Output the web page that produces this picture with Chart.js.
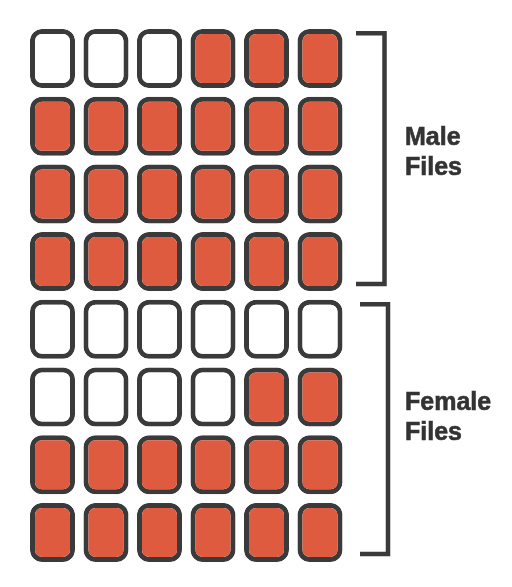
<!DOCTYPE html>
<html>
<head>
<meta charset="utf-8">
<script src="https://cdn.jsdelivr.net/npm/chart.js@4/dist/chart.umd.min.js"></script>
<style>
  html, body { margin: 0; padding: 0; background: #ffffff; }
  #wrap { width: 512px; height: 587px; position: relative; }
</style>
</head>
<body>
<div id="wrap"><canvas id="c" width="512" height="587"></canvas></div>
<script>
// ---- data ----
const columns = ['1', '2', '3', '4', '5', '6'];
const groupLabels = [['Male', 'Files'], ['Female', 'Files']];
const groupRows = [4, 4];              // rows per group
const rowFilled = [3, 6, 6, 6, 0, 2, 6, 6]; // filled cells per row (right-aligned)

// ---- styles ----
const FILL = '#DF5B3F';
const EMPTY = '#FFFFFF';
const STROKE = '#3A3A3A';
const CELL = 0.872; // fraction of row pitch

const nRows = rowFilled.length;
const datasets = rowFilled.map((count, r) => ({
  label: 'row ' + (r + 1),
  data: columns.map(() => [r + (1 - CELL) / 2, r + 1 - (1 - CELL) / 2]),
  backgroundColor: columns.map((c, i) => (i >= columns.length - count ? FILL : EMPTY)),
  borderColor: STROKE,
  borderWidth: 5,
  borderRadius: 12,
  borderSkipped: false,
  grouped: false,
  categoryPercentage: 1,
  barPercentage: 0.841
}));

const bracketPlugin = {
  id: 'brackets',
  afterDatasetsDraw(chart) {
    const ctx = chart.ctx;
    const y = chart.scales.y;
    const right = chart.chartArea.right;
    const geo = [
      { top: 0.128, bottom: 3.831, xl: 9.25, xv: 37.75, t1: 1.778 },
      { top: 4.130, bottom: 7.818, xl: 13.25, xv: 41.25, t1: 5.692 }
    ];
    ctx.save();
    ctx.strokeStyle = STROKE;
    ctx.lineWidth = 4.5;
    ctx.lineCap = 'butt';
    ctx.lineJoin = 'miter';
    geo.forEach((g, gi) => {
      const yt = y.getPixelForValue(g.top);
      const yb = y.getPixelForValue(g.bottom);
      ctx.beginPath();
      ctx.moveTo(right + g.xl, yt);
      ctx.lineTo(right + g.xv, yt);
      ctx.lineTo(right + g.xv, yb);
      ctx.lineTo(right + g.xl, yb);
      ctx.stroke();
    });
    ctx.fillStyle = '#333333';
    ctx.strokeStyle = '#333333';
    ctx.lineWidth = 0.6;
    ctx.font = 'bold 25px "Liberation Sans", Arial, sans-serif';
    ctx.textAlign = 'left';
    ctx.textBaseline = 'alphabetic';
    geo.forEach((g, gi) => {
      const base = y.getPixelForValue(g.t1);
      groupLabels[gi].forEach((line, li) => {
        ctx.fillText(line, right + 58.25, base + li * 30);
        ctx.strokeText(line, right + 58.25, base + li * 30);
      });
    });
    ctx.restore();
  }
};

new Chart(document.getElementById('c'), {
  type: 'bar',
  data: { labels: columns, datasets },
  options: {
    responsive: false,
    animation: false,
    events: [],
    layout: { padding: { left: 25.75, right: 165.25, top: 24.65, bottom: 20.75 } },
    plugins: { legend: { display: false }, tooltip: { enabled: false } },
    scales: {
      x: { display: false, offset: true, grid: { display: false } },
      y: { display: false, min: 0, max: nRows, reverse: true, grid: { display: false } }
    }
  },
  plugins: [bracketPlugin]
});
</script>
</body>
</html>
